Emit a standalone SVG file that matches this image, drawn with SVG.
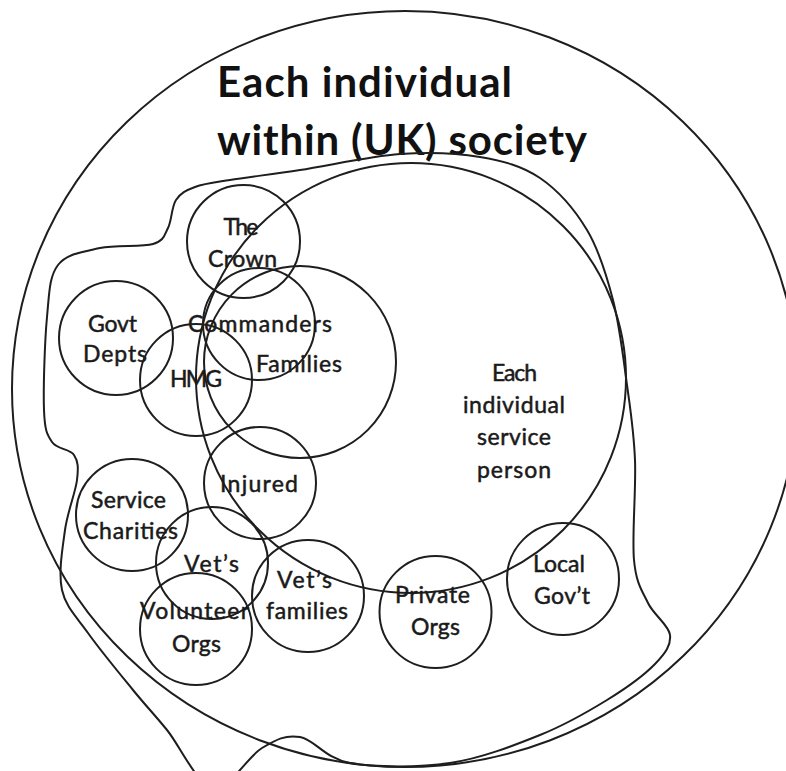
<svg xmlns="http://www.w3.org/2000/svg" width="786" height="771" viewBox="0 0 786 771">
<style>
.ln{fill:none;stroke:#1e1e1e;stroke-width:2}
.lb{font-family:Lato,"Liberation Sans",sans-serif;font-size:23px;fill:#1a1a1a;stroke:#1a1a1a;stroke-width:0.5;text-anchor:middle}
.tt{font-family:Lato,"Liberation Sans",sans-serif;font-size:42px;font-weight:bold;fill:#111}
</style>
<rect width="786" height="771" fill="#fff"/>
<g id="society">
<ellipse class="ln" cx="405" cy="389" rx="393" ry="378"/>
<text class="tt" x="217" y="97" textLength="295">Each individual</text>
<text class="tt" x="217" y="155" textLength="370">within (UK) society</text>
</g>
<g id="community">
<path class="ln" d="M400,154 C430,151.8 456.7,153 480,157 C503.3,161 522.2,165.8 540,178 C557.8,190.2 574.8,209.7 587,230 C599.2,250.3 606.3,274.2 613,300 C619.7,325.8 623.3,358.3 627,385 C630.7,411.7 633.8,430.8 635,460 C636.2,489.2 631.8,536.2 634,560 C636.2,583.8 642,590.5 648,603 C654,615.5 668.8,624.8 670,635 C671.2,645.2 665.5,653.2 655,664 C644.5,674.8 626.2,688.2 607,700 C587.8,711.8 566.2,724.5 540,735 C513.8,745.5 481.7,758.3 450,763 C418.3,767.7 375,767.3 350,763 C325,758.7 314.7,739.5 300,737 C285.3,734.5 276.5,739.5 262,748 C247.5,756.5 228.8,791 213,788 C197.2,785 180.3,746.3 167,730 C153.7,713.7 146.2,706.2 133,690 C119.8,673.8 99.8,649.7 88,633 C76.2,616.3 65.8,607.2 62,590 C58.2,572.8 62.5,548.3 65,530 C67.5,511.7 75.5,492.5 77,480 C78.5,467.5 78.2,461.3 74,455 C69.8,448.7 57,449.5 52,442 C47,434.5 44.8,430.8 44,410 C43.2,389.2 44.7,341.2 47,317 C49.3,292.8 49.2,276.5 58,265 C66.8,253.5 84.2,251.5 100,248 C115.8,244.5 141.7,247.3 153,244 C164.3,240.7 164.2,235.3 168,228 C171.8,220.7 171.5,206.8 176,200 C180.5,193.2 186,190.3 195,187 C204,183.7 212.5,182.8 230,180 C247.5,177.2 271.7,174.3 300,170 C328.3,165.7 370,156.2 400,154 Z"/>
</g>
<g id="service-person">
<circle class="ln" cx="411" cy="378" r="215"/>
<text class="lb" x="514.5" y="381" textLength="45">Each</text>
<text class="lb" x="514" y="413" textLength="102">individual</text>
<text class="lb" x="514" y="445" textLength="74">service</text>
<text class="lb" x="514" y="478" textLength="74">person</text>
</g>
<g id="crown">
<circle class="ln" cx="243.5" cy="241.5" r="56.5"/>
<text class="lb" x="241" y="235" textLength="35">The</text>
<text class="lb" x="242.5" y="267" textLength="69">Crown</text>
</g>
<g id="families">
<circle class="ln" cx="300" cy="362" r="96"/>
<text class="lb" x="299" y="372" textLength="86">Families</text>
</g>
<g id="commanders">
<circle class="ln" cx="259" cy="324" r="56"/>
<text class="lb" x="260" y="332" textLength="144">Commanders</text>
</g>
<g id="govt-depts">
<circle class="ln" cx="116" cy="338" r="57"/>
<text class="lb" x="112.5" y="332" textLength="49">Govt</text>
<text class="lb" x="115" y="362" textLength="64">Depts</text>
</g>
<g id="hmg">
<circle class="ln" cx="196" cy="380" r="56"/>
<text class="lb" x="196" y="387" textLength="52">HMG</text>
</g>
<g id="injured">
<circle class="ln" cx="260" cy="483" r="56"/>
<text class="lb" x="259" y="492" textLength="78">Injured</text>
</g>
<g id="service-charities">
<circle class="ln" cx="132" cy="515" r="56"/>
<text class="lb" x="128.5" y="508" textLength="75">Service</text>
<text class="lb" x="130.5" y="539" textLength="95">Charities</text>
</g>
<g id="vets">
<circle class="ln" cx="212" cy="563" r="56"/>
<text class="lb" x="211.5" y="572" textLength="55">Vet’s</text>
</g>
<g id="volunteer-orgs">
<circle class="ln" cx="196" cy="629" r="56"/>
<text class="lb" x="194.5" y="619" textLength="109">Volunteer</text>
<text class="lb" x="196.5" y="652" textLength="49">Orgs</text>
</g>
<g id="vets-families">
<circle class="ln" cx="308" cy="596" r="56"/>
<text class="lb" x="304.5" y="588" textLength="55">Vet’s</text>
<text class="lb" x="307" y="619" textLength="82">families</text>
</g>
<g id="private-orgs">
<circle class="ln" cx="435.5" cy="612" r="56"/>
<text class="lb" x="432.5" y="603" textLength="75">Private</text>
<text class="lb" x="435.5" y="635" textLength="49">Orgs</text>
</g>
<g id="local-govt">
<circle class="ln" cx="563" cy="579" r="56"/>
<text class="lb" x="559" y="572" textLength="52">Local</text>
<text class="lb" x="562" y="604" textLength="56">Gov’t</text>
</g>
</svg>
